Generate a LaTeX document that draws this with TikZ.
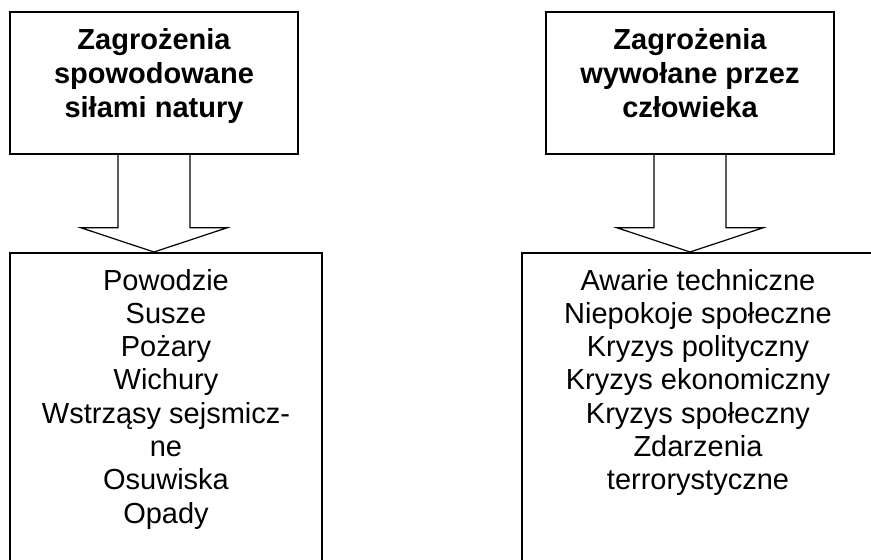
\documentclass[tikz,border=0pt]{standalone}
\usepackage{fontspec}
\setmainfont{Liberation Sans}
\usetikzlibrary{calc}

\begin{document}
\begin{tikzpicture}[x=1pt,y=-1pt,
		ramka/.style={draw,line width=1.6pt,inner sep=0pt},
		wiersz/.style={anchor=base,inner sep=0pt,font=\fontsize{29pt}{33pt}\selectfont},
		naglowek/.style={wiersz,font=\fontsize{29pt}{34pt}\selectfont\bfseries},
		strzalka/.style={line width=1.2pt,line join=miter}
		]
		\useasboundingbox (0,0) rectangle (871,560);
		\node[ramka,minimum width=288pt,minimum height=142pt] (ZN) at (154,83) {};
		\node[ramka,minimum width=288pt,minimum height=142pt] (ZC) at (690,83) {};
		\node[ramka,minimum width=312pt,minimum height=400pt,anchor=north] (LN) at (166,252) {};
		\node[ramka,minimum width=352pt,minimum height=400pt,anchor=north] (LC) at (698,252) {};
		\foreach \T [count=\i] in {Zagrożenia,spowodowane,siłami natury}{
			\node[naglowek] (ZN\i) at ($(ZN.north)+(0,4+34*\i)$) {\T};
		}
		\foreach \T [count=\i] in {Zagrożenia,wywołane przez,człowieka}{
			\node[naglowek] (ZC\i) at ($(ZC.north)+(0,4+34*\i)$) {\T};
		}
		\foreach \T [count=\i] in {Powodzie,Susze,Pożary,Wichury,Wstrząsy sejsmicz-,ne,Osuwiska,Opady}{
			\node[wiersz] (LN\i) at ($(LN.north)+(0,4.7+33.3*\i)$) {\T};
		}
		\foreach \T [count=\i] in {Awarie techniczne,Niepokoje społeczne,Kryzys polityczny,Kryzys ekonomiczny,Kryzys społeczny,Zdarzenia,terrorystyczne}{
			\node[wiersz] (LC\i) at ($(LC.north)+(0,4.7+33.3*\i)$) {\T};
		}
		\foreach \Z/\L in {ZN/LN, ZC/LC}{
			\draw[strzalka] ($(\Z.south)+(-36,0)$) -- ++(0,73) -- ++(-37,0)
				-- (\Z.south |- \L.north) -- ($(\Z.south)+(73,73)$) -- ++(-37,0)
				-- ($(\Z.south)+(36,0)$);
		}
	\end{tikzpicture}
\end{document}
